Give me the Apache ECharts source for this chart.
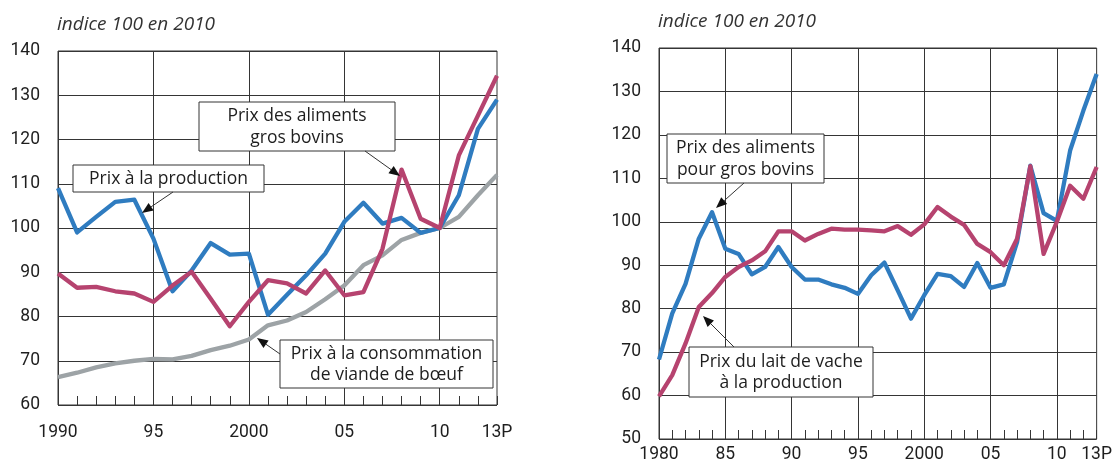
<!DOCTYPE html>
<html>
<head>
<meta charset="utf-8">
<script src="https://cdn.jsdelivr.net/npm/echarts@6/dist/echarts.min.js"></script>
<style>
html,body{margin:0;padding:0;background:#fff;}
#c{width:1115px;height:470px;}
</style>
</head>
<body>
<div id="c"></div>
<script>
// ---------- DATA ----------
// Left chart: 1990 - 2013
const yearsLeft = [1990,1991,1992,1993,1994,1995,1996,1997,1998,1999,2000,2001,2002,2003,2004,2005,2006,2007,2008,2009,2010,2011,2012,2013];
const prixProductionBovins = [109.0,99.0,102.5,105.9,106.4,97.6,85.7,90.4,96.6,94.0,94.2,80.4,84.9,89.3,94.2,101.4,105.7,101.0,102.3,98.9,100.0,107.4,122.4,129.0];
const prixAlimentsGrosBovinsL = [89.7,86.5,86.7,85.7,85.2,83.3,87.0,90.1,84.0,77.8,83.3,88.2,87.5,85.2,90.4,84.8,85.5,95.3,113.2,102.1,100.0,116.4,125.4,134.4];
const prixConsoViande = [66.3,67.3,68.5,69.4,70.0,70.4,70.3,71.1,72.4,73.4,74.8,78.0,79.1,81.0,83.9,87.0,91.6,93.8,97.3,98.9,100.0,102.5,107.4,112.0];
const leftTickYears = [1990,1995,2000,2005,2010,2013];
const leftTickLabels = ['1990','95','2000','05','10','13P'];

// Right chart: 1980 - 2013
const yearsRight = [1980,1981,1982,1983,1984,1985,1986,1987,1988,1989,1990,1991,1992,1993,1994,1995,1996,1997,1998,1999,2000,2001,2002,2003,2004,2005,2006,2007,2008,2009,2010,2011,2012,2013];
const prixAlimentsGrosBovinsR = [68.3,78.9,85.7,96.1,102.2,93.8,92.6,87.9,89.6,94.2,89.6,86.7,86.7,85.6,84.8,83.4,87.7,90.6,84.2,77.7,83.1,88.0,87.5,85.0,90.5,84.8,85.6,95.3,112.9,102.0,100.2,116.4,125.6,134.0];
const prixLaitVache = [59.8,64.7,72.0,80.4,83.6,87.3,89.6,91.1,93.2,97.8,97.8,95.7,97.2,98.4,98.2,98.2,98.0,97.8,99.0,97.0,99.4,103.4,101.2,99.3,94.9,93.0,90.0,96.1,112.8,92.6,100.0,108.3,105.3,112.6];
const rightTickYears = [1980,1985,1990,1995,2000,2005,2010,2013];
const rightTickLabels = ['1980','85','90','95','2000','05','10','13P'];

// ---------- STYLE ----------
const BLUE = '#2f7cc0';
const MAGENTA = '#b6436f';
const GREY = '#9da3a6';
const GRIDC = '#353535';
const TXT = '#1e1e1e';
const FONT = 'Roboto, "Liberation Sans", sans-serif';
const NOTE_FONT = '"Open Sans", Roboto, sans-serif';

const chart = echarts.init(document.getElementById('c'), null, {renderer:'canvas'});

function xAxisFor(years, tickYears, tickLabels, gridIndex, margin) {
  const cats = years.map(String);
  return {
    type: 'category', gridIndex: gridIndex, data: cats, boundaryGap: false,
    axisLine: {show: false},
    axisTick: {show: true, inside: true, length: 9, interval: 0, lineStyle: {color: GRIDC, width: 1}},
    splitLine: {show: true, interval: function(i, v){ return (+v) % 5 === 0; }, lineStyle: {color: GRIDC, width: 1}},
    axisLabel: {
      show: true, margin: margin, color: TXT, fontSize: 17.5, fontFamily: FONT,
      interval: function(i, v){ return tickYears.indexOf(+v) >= 0; },
      formatter: function(v){ const k = tickYears.indexOf(+v); return k >= 0 ? tickLabels[k] : ''; }
    }
  };
}
function yAxisFor(min, max, gridIndex) {
  return {
    type: 'value', gridIndex: gridIndex, min: min, max: max, interval: 10,
    axisLine: {show: false}, axisTick: {show: false},
    splitLine: {show: true, lineStyle: {color: GRIDC, width: 1}},
    axisLabel: {color: TXT, fontSize: 17.5, fontFamily: FONT, margin: 18}
  };
}
function lineSeries(data, color, xi, yi, z) {
  return {
    type: 'line', xAxisIndex: xi, yAxisIndex: yi, data: data, showSymbol: false, symbol: 'none',
    lineStyle: {color: color, width: 4.3, join: 'round'}, z: z, silent: true, animation: false
  };
}

// annotation helpers (pixel layout of label boxes)
function box(x, y, w, h, text) {
  return [
    {type: 'rect', shape: {x: x, y: y, width: w, height: h}, style: {fill: '#fff', stroke: GRIDC, lineWidth: 1}, z: 100},
    {type: 'text', x: x + w/2, y: y + h/2 + 0.5, style: {text: text, fill: TXT, font: '17.5px ' + NOTE_FONT, align: 'center', verticalAlign: 'middle', lineHeight: 21.5}, z: 101}
  ];
}
function arrow(x1, y1, x2, y2) {
  const ang = Math.atan2(y2 - y1, x2 - x1);
  const L = 11, W = 4.5;
  const bx = x2 - L*Math.cos(ang), by = y2 - L*Math.sin(ang);
  const px = -Math.sin(ang), py = Math.cos(ang);
  return [
    {type: 'line', shape: {x1: x1, y1: y1, x2: bx, y2: by}, style: {stroke: '#333', lineWidth: 1}, z: 100},
    {type: 'polygon', shape: {points: [[x2, y2], [bx + px*W, by + py*W], [bx - px*W, by - py*W]]}, style: {fill: '#111'}, z: 100}
  ];
}

const graphics = [].concat(
  box(73, 165, 191, 27, 'Prix à la production'),
  arrow(173, 192, 142, 213),
  box(199, 102, 196, 49, 'Prix des aliments\ngros bovins'),
  arrow(365, 151, 400, 176),
  box(280, 340, 213, 48, 'Prix à la consommation\nde viande de bœuf'),
  arrow(280, 354, 257, 338),
  box(667, 134, 157, 49, 'Prix des aliments\npour gros bovins'),
  arrow(744, 183, 716, 208),
  box(689, 347, 184, 50, 'Prix du lait de vache\nà la production'),
  arrow(734, 347, 703, 316)
);

const titleStyle = {fontStyle: 'italic', fontWeight: 'normal', fontSize: 19, color: '#333', fontFamily: NOTE_FONT};
const option = {
  animation: false,
  backgroundColor: '#fff',
  title: [
    {text: 'indice 100 en 2010', left: 57, top: 15, padding: 0, textStyle: titleStyle},
    {text: 'indice 100 en 2010', left: 658, top: 12, padding: 0, textStyle: titleStyle}
  ],
  grid: [
    {left: 58, top: 51, width: 439, height: 354, show: true, borderColor: GRIDC, borderWidth: 1, backgroundColor: 'transparent'},
    {left: 659, top: 48, width: 438, height: 391, show: true, borderColor: GRIDC, borderWidth: 1, backgroundColor: 'transparent'}
  ],
  xAxis: [
    xAxisFor(yearsLeft, leftTickYears, leftTickLabels, 0, 19),
    xAxisFor(yearsRight, rightTickYears, rightTickLabels, 1, 7)
  ],
  yAxis: [
    yAxisFor(60, 140, 0),
    yAxisFor(50, 140, 1)
  ],
  series: [
    lineSeries(prixConsoViande, GREY, 0, 0, 2),
    lineSeries(prixProductionBovins, BLUE, 0, 0, 3),
    lineSeries(prixAlimentsGrosBovinsL, MAGENTA, 0, 0, 4),
    lineSeries(prixAlimentsGrosBovinsR, BLUE, 1, 1, 3),
    lineSeries(prixLaitVache, MAGENTA, 1, 1, 4)
  ],
  graphic: graphics
};
chart.setOption(option);
</script>
</body>
</html>
